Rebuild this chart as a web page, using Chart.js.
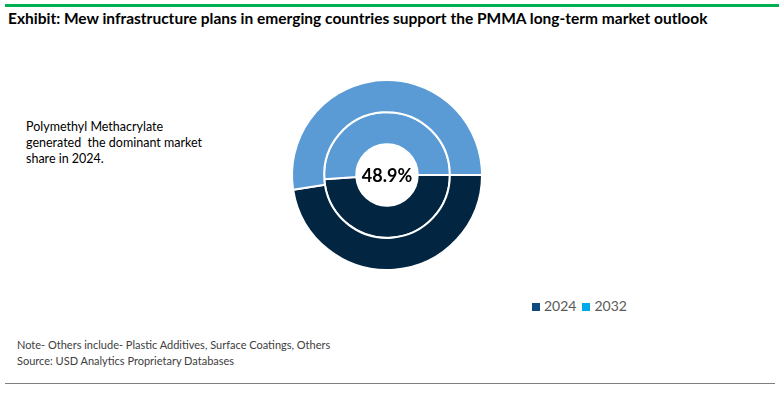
<!DOCTYPE html>
<html>
<head>
<meta charset="utf-8">
<script src="https://cdn.jsdelivr.net/npm/chart.js@4.4.0/dist/chart.umd.min.js"></script>
<style>
  body { margin: 0; width: 784px; height: 397px; background: #fff; font-family: Lato, "Open Sans", sans-serif; position: relative; overflow: hidden; }
  .topline { position: absolute; left: 5px; right: 5px; top: 4px; height: 3px; background: #00B050; }
  .title { position: absolute; left: 8px; top: 9px; font-size: 15.5px; font-weight: bold; color: #000; white-space: nowrap; }
  .side { position: absolute; left: 26px; top: 119px; font-size: 12.5px; line-height: 16px; color: #000; }
  .note { position: absolute; left: 17px; top: 337px; font-size: 11px; line-height: 16px; color: #404040; }
  .bottomline { position: absolute; left: 5px; right: 9px; top: 383px; height: 1px; background: #7f7f7f; }
  #legend { position: absolute; left: 532px; top: 297px; font-size: 14px; color: #595959; }
  #legend span.item { margin-right: 6px; }
  #legend i { display: inline-block; width: 8px; height: 8px; margin-right: 4px; }
  #wrap { position: absolute; left: 287px; top: 75px; width: 200px; height: 200px; }
</style>
</head>
<body>
<div class="topline"></div>
<div class="title">Exhibit: Mew infrastructure plans in emerging countries support the PMMA long-term market outlook</div>
<div class="side">Polymethyl Methacrylate<br>generated&nbsp; the dominant market<br>share in 2024.</div>
<div id="wrap"><canvas id="pmmaChart" width="200" height="200"></canvas></div>
<div id="legend"></div>
<div class="note">Note- Others include- Plastic Additives, Surface Coatings, Others<br>Source: USD Analytics Proprietary Databases</div>
<div class="bottomline"></div>
<script>
// chart data
const segments = ['Polymethyl Methacrylate', 'Others'];
const outerValues = [47.5, 52.5];   // outer ring
const innerValues = [48.9, 51.1];   // inner ring
const centerLabel = innerValues[0].toFixed(1) + '%';
const legendLabels = ['2024', '2032'];
const legendColors = ['#0E4C7F', '#00A9EC'];
const sliceColors = ['#022642', '#5B9BD5'];

// legend (html)
const legend = document.getElementById('legend');
legendLabels.forEach(function(lbl, i) {
    const s = document.createElement('span');
    s.className = 'item';
    s.innerHTML = '<i style="background:' + legendColors[i] + '"></i>' + lbl;
    legend.appendChild(s);
});

// center text plugin
const centerText = {
    id: 'centerText',
    afterDraw: function(chart) {
        const meta = chart.getDatasetMeta(0).data[0];
        const c = chart.ctx;
        c.save();
        c.font = 'bold 18px Lato, "Open Sans", sans-serif';
        c.fillStyle = '#000';
        c.textAlign = 'center';
        c.textBaseline = 'middle';
        c.fillText(centerLabel, meta.x, meta.y + 1);
        c.restore();
    }
};

const ctx = document.getElementById('pmmaChart');
new Chart(ctx, {
    type: 'doughnut',
    data: {
        labels: segments,
        datasets: [
            { data: outerValues, backgroundColor: sliceColors, borderColor: '#fff', borderWidth: 2 },
            { data: innerValues, backgroundColor: sliceColors, borderColor: '#fff', borderWidth: 2 }
        ]
    },
    options: {
        responsive: false,
        animation: false,
        rotation: 90,
        radius: 95,
        cutout: 32,
        layout: { padding: 0 },
        plugins: {
            legend: { display: false },
            tooltip: { enabled: false }
        }
    },
    plugins: [centerText]
});
</script>
</body>
</html>
